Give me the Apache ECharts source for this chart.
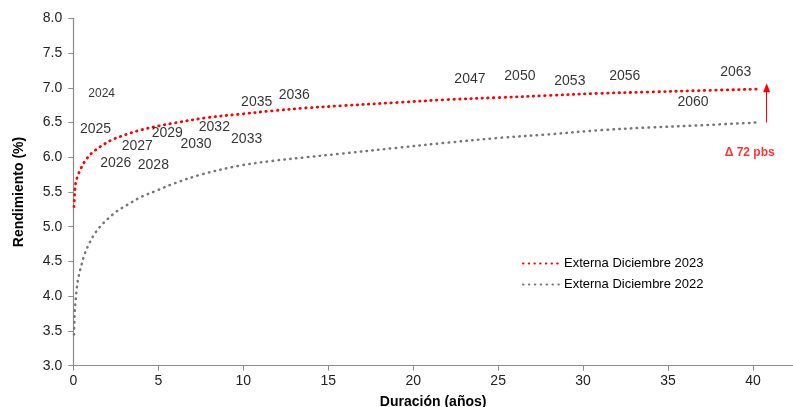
<!DOCTYPE html>
<html><head><meta charset="utf-8">
<script src="https://cdn.jsdelivr.net/npm/echarts@6/dist/echarts.min.js"></script>
<style>html,body{margin:0;padding:0;background:#fff;overflow:hidden}#c{width:793px;height:407px}</style>
</head><body><div id="c"></div>
<script>
// Curve: Externa Diciembre 2023
var x2023 = [0.04, 0.08, 0.14, 0.29, 0.49, 0.79, 1.18, 1.76, 2.35, 3.14, 3.93, 5.0, 5.88, 7.85, 9.81, 11.76, 13.73, 15.69, 19.2, 22, 25.1, 28, 31, 34, 36.9, 40.2];
var y2023 = [5.29, 5.46, 5.63, 5.75, 5.86, 5.98, 6.08, 6.18, 6.26, 6.33, 6.39, 6.45, 6.49, 6.57, 6.62, 6.67, 6.71, 6.74, 6.79, 6.83, 6.86, 6.89, 6.92, 6.94, 6.96, 6.98];
// Curve: Externa Diciembre 2022
var x2022 = [0.04, 0.06, 0.08, 0.14, 0.2, 0.29, 0.45, 0.63, 0.88, 1.18, 1.57, 2.06, 2.55, 3.14, 4.0, 4.9, 5.9, 7.5, 9.8, 11.8, 13.7, 15.7, 19.2, 22, 25.1, 28, 31, 34, 36.9, 40.2];
var y2022 = [3.45, 3.61, 3.78, 3.94, 4.10, 4.26, 4.42, 4.58, 4.73, 4.87, 5.00, 5.12, 5.22, 5.31, 5.43, 5.52, 5.62, 5.75, 5.88, 5.95, 6.00, 6.05, 6.14, 6.21, 6.28, 6.33, 6.39, 6.43, 6.46, 6.50];
// Bond year labels
var bondNames = ['2024','2025','2026','2027','2028','2029','2030','2032','2033','2035','2036','2047','2050','2053','2056','2060','2063'];
var bondX = [1.67, 1.31, 2.50, 3.76, 4.71, 5.53, 7.22, 8.30, 10.20, 10.79, 13.00, 23.34, 26.28, 29.22, 32.45, 36.47, 38.98];
var bondY = [6.91, 6.40, 5.91, 6.16, 5.88, 6.35, 6.19, 6.43, 6.26, 6.79, 6.89, 7.12, 7.17, 7.10, 7.17, 6.79, 7.22];
// Spread annotation
var deltaText = 'Δ 72 pbs';
var deltaPos = [39.8, 6.07];
var arrowX = 40.8, arrowFrom = 6.50, arrowTo = 7.00;
var seriesNames = ['Externa Diciembre 2023', 'Externa Diciembre 2022'];

var FONT = '"Liberation Sans", Arial, sans-serif';
function zip(xs, ys){ return xs.map(function(v,i){ return [v, ys[i]]; }); }

var el = document.getElementById('c');
var chart = echarts.init(el, null, {renderer:'canvas'});
chart.setOption({
  animation: false,
  backgroundColor: '#fff',
  textStyle: {fontFamily: FONT},
  grid: {left: 73.3, top: 18.3, bottom: 41.3, right: 0, containLabel: false, outerBoundsMode: 'none'},
  legend: {
    orient: 'vertical', left: 517, top: 252,
    itemWidth: 36, itemHeight: 14, itemGap: 8,
    itemStyle: {color: 'rgba(0,0,0,0)', opacity: 0, borderWidth: 0},
    data: seriesNames,
    textStyle: {fontFamily: FONT, fontSize: 13, color: '#000'}
  },
  xAxis: {
    type: 'value', min: 0, max: 42.35, interval: 5,
    name: 'Duración (años)', nameLocation: 'middle', nameGap: 29,
    nameTextStyle: {fontFamily: FONT, fontSize: 14, fontWeight: 'bold', color: '#000'},
    axisLine: {lineStyle: {color: '#8c8c8c', width: 1.2}},
    axisTick: {show: true, length: 5, lineStyle: {color: '#8c8c8c'}},
    axisLabel: {showMaxLabel: false, margin: 8, fontFamily: FONT, fontSize: 14, color: '#222'},
    splitLine: {show: false}
  },
  yAxis: {
    type: 'value', min: 3, max: 8, interval: 0.5,
    name: 'Rendimiento (%)', nameLocation: 'middle', nameGap: 47, nameRotate: 90,
    nameTextStyle: {fontFamily: FONT, fontSize: 14, fontWeight: 'bold', color: '#000'},
    axisLine: {show: true, lineStyle: {color: '#8c8c8c', width: 1.2}},
    axisTick: {show: true, length: 5, lineStyle: {color: '#8c8c8c'}},
    axisLabel: {margin: 11, fontFamily: FONT, fontSize: 14, color: '#222', formatter: function(v){ return v.toFixed(1); }},
    splitLine: {show: false}
  },
  series: [
    {
      name: seriesNames[0], type: 'line', data: zip(x2023, y2023),
      symbol: 'none', smooth: 0.35,
      lineStyle: {color: '#ff0000', width: 2.8, type: [0.5, 5.2], cap: 'round'},
      itemStyle: {color: '#ff0000'}, z: 3
    },
    {
      name: seriesNames[1], type: 'line', data: zip(x2022, y2022),
      symbol: 'none', smooth: 0.35,
      lineStyle: {color: '#767676', width: 2.5, type: [0.5, 5.4], cap: 'round'},
      itemStyle: {color: '#767676'}, z: 3
    },
    {
      name: 'bonos', type: 'scatter', symbolSize: 1, silent: true,
      itemStyle: {color: 'rgba(0,0,0,0)'},
      data: bondNames.map(function(n,i){
        var item = {value: [bondX[i], bondY[i], n]};
        if (n === '2024') item.label = {fontSize: 12};
        return item;
      }),
      label: {
        show: true, position: 'inside', color: '#000', fontFamily: FONT,
        formatter: function(p){ return p.value[2]; },
        fontSize: 14
      },
      labelLayout: {hideOverlap: false},
      z: 4
    },
    {
      name: 'delta', type: 'scatter', symbolSize: 1, silent: true,
      itemStyle: {color: 'rgba(0,0,0,0)'},
      data: [[deltaPos[0], deltaPos[1], deltaText]],
      label: {
        show: true, position: 'inside', color: '#ff0000', fontFamily: FONT,
        fontWeight: 'bold', fontSize: 12,
        formatter: function(p){ return p.value[2]; }
      },
      markLine: {
        silent: true, animation: false,
        symbol: ['none', 'triangle'], symbolSize: [7, 9],
        label: {show: false},
        lineStyle: {color: '#ff0000', width: 1, type: 'solid'},
        data: [[{coord: [arrowX, arrowFrom]}, {coord: [arrowX, arrowTo]}]]
      },
      z: 4
    }
  ]
});
</script>
</body></html>
